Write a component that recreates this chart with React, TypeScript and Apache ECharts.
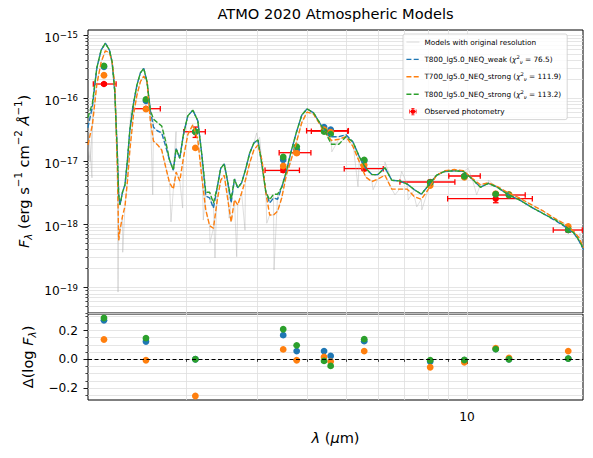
import React, { useEffect, useRef } from "react";
import * as echarts from "echarts";

// ---------------- data ----------------
const modelNames = ["T800_lg5.0_NEQ_weak", "T700_lg5.0_NEQ_strong", "T800_lg5.0_NEQ_strong"];
const chi2 = [76.5, 111.9, 113.2];
const grayName = "Models with original resolution";
const obsName = "Observed photometry";

// observed photometry (micron, erg s-1 cm-2 A-1)
const obsWave = [1.25, 1.59, 2.11, 3.49, 3.77, 4.41, 4.58, 5.55, 8.10, 9.85, 11.79, 12.72, 17.86];
const obsWaveLo = [1.176, 1.474, 1.973, 3.145, 3.41, 3.99, 4.10, 4.95, 6.81, 9.01, 8.95, 11.86, 16.39];
const obsWaveHi = [1.340, 1.726, 2.234, 3.83, 4.09, 5.07, 5.05, 6.19, 9.33, 10.79, 14.54, 13.96, 19.36];
const obsFlux = [1.675e-16, 6.81e-17, 2.94e-17, 7.21e-18, 1.37e-17, 3.05e-17, 3.0e-17, 7.64e-18, 4.71e-18, 5.86e-18, 2.56e-18, 2.93e-18, 8.18e-19];
const obsFluxErr = [8e-18, 3e-18, 5.5e-18, 5e-19, 9e-19, 2e-18, 2e-18, 5e-19, 3e-19, 3e-19, 3.5e-19, 1.5e-19, 6e-20];

// synthetic photometry of the models
const photWeak = [3.13e-16, 9.06e-17, 2.94e-17, 1.06e-17, 1.56e-17, 3.48e-17, 3.16e-17, 1.02e-17, 4.54e-18, 5.77e-18, 3.02e-18, 2.93e-18, 8.27e-19];
const photStrong700 = [2.30e-16, 6.70e-17, 1.63e-17, 8.45e-18, 1.35e-17, 3.16e-17, 2.89e-17, 8.71e-18, 4.15e-18, 5.58e-18, 3.06e-18, 2.99e-18, 9.32e-19];
const photStrong800 = [3.24e-16, 9.55e-17, 2.94e-17, 1.17e-17, 1.71e-17, 2.97e-17, 2.70e-17, 1.05e-17, 4.63e-18, 5.79e-18, 3.02e-18, 2.93e-18, 8.27e-19];

// residuals  log10(model / observed)
const resWeak = [0.271, 0.124, 0.0, 0.168, 0.057, 0.057, 0.023, 0.126, -0.016, -0.007, 0.071, 0.0, 0.005];
const resStrong700 = [0.138, -0.007, -0.255, 0.069, -0.007, 0.016, -0.016, 0.057, -0.055, -0.021, 0.078, 0.009, 0.057];
const resStrong800 = [0.287, 0.147, 0.0, 0.209, 0.097, -0.011, -0.046, 0.140, -0.007, -0.005, 0.071, 0.0, 0.005];

// smoothed model spectra: wavelength (micron) and log10 F_lambda
const specWave = [1.14, 1.17, 1.20, 1.23, 1.26, 1.29, 1.31, 1.33, 1.35, 1.36, 1.37, 1.39, 1.41, 1.43, 1.45, 1.48, 1.51, 1.54, 1.57, 1.60, 1.63, 1.66, 1.70, 1.74, 1.78, 1.82, 1.86, 1.89, 1.93, 1.97, 2.02, 2.08, 2.14, 2.19, 2.24, 2.29, 2.34, 2.39, 2.44, 2.49, 2.54, 2.59, 2.64, 2.69, 2.75, 2.81, 2.88, 2.95, 3.02, 3.09, 3.16, 3.23, 3.30, 3.38, 3.46, 3.55, 3.65, 3.76, 3.88, 4.00, 4.15, 4.30, 4.45, 4.60, 4.80, 5.00, 5.20, 5.40, 5.60, 5.80, 6.00, 6.25, 6.50, 6.80, 7.10, 7.40, 7.70, 8.00, 8.40, 8.80, 9.30, 9.80, 10.3, 10.8, 11.3, 11.9, 12.6, 13.5, 14.5, 15.5, 16.5, 17.5, 18.5, 19.0, 19.5];
const specWeak = [
  -16.47, -16.13, -15.52, -15.24, -15.13, -15.24, -15.43, -15.90, -16.90, -17.53,
  -17.69, -17.49, -17.37, -16.98, -16.50, -16.09, -15.79, -15.60, -15.53, -15.74,
  -16.19, -16.46, -16.52, -16.55, -16.76, -16.98, -17.14, -16.80, -16.95, -16.58,
  -16.28, -16.19, -16.36, -16.90, -17.55, -17.58, -17.74, -17.42, -17.11, -17.04,
  -17.33, -17.66, -17.28, -17.42, -17.34, -17.14, -16.87, -16.71, -16.66, -17.06,
  -17.49, -17.66, -17.58, -17.60, -17.41, -17.17, -16.85, -16.55, -16.27, -16.17,
  -16.23, -16.39, -16.55, -16.61, -16.61, -16.58, -16.69, -16.93, -17.11, -17.21,
  -17.21, -17.10, -17.30, -17.31, -17.36, -17.45, -17.52, -17.39, -17.22, -17.16,
  -17.15, -17.16, -17.28, -17.41, -17.35, -17.41, -17.52, -17.61, -17.73, -17.83,
  -17.93, -18.03, -18.15, -18.26, -18.40,
];
const specStrong700 = [
  -16.74, -16.42, -15.78, -15.43, -15.25, -15.28, -15.43, -15.79, -17.14, -18.25,
  -18.09, -17.87, -17.71, -17.31, -16.82, -16.27, -15.95, -15.74, -15.65, -15.74,
  -16.35, -16.68, -16.74, -16.82, -17.09, -17.34, -17.44, -17.17, -17.31, -16.95,
  -16.58, -16.42, -16.66, -17.26, -17.77, -18.02, -18.06, -17.63, -17.30, -17.22,
  -17.60, -17.96, -17.61, -17.69, -17.50, -17.30, -17.03, -16.82, -16.74, -16.98,
  -17.50, -17.85, -17.85, -17.79, -17.58, -17.23, -16.98, -16.71, -16.39, -16.22,
  -16.25, -16.41, -16.55, -16.67, -16.65, -16.61, -16.76, -17.01, -17.25, -17.32,
  -17.28, -17.22, -17.44, -17.44, -17.44, -17.56, -17.60, -17.45, -17.22, -17.15,
  -17.13, -17.15, -17.27, -17.37, -17.34, -17.40, -17.49, -17.58, -17.69, -17.79,
  -17.90, -17.99, -18.12, -18.21, -18.37,
];
const specStrong800 = [
  -16.31, -16.08, -15.52, -15.24, -15.13, -15.24, -15.43, -15.90, -16.90, -17.53,
  -17.69, -17.49, -17.37, -16.98, -16.50, -16.09, -15.79, -15.60, -15.53, -15.74,
  -16.19, -16.33, -16.39, -16.44, -16.68, -16.98, -17.14, -16.80, -16.95, -16.58,
  -16.28, -16.19, -16.36, -16.90, -17.49, -17.49, -17.66, -17.42, -17.11, -17.04,
  -17.33, -17.60, -17.28, -17.42, -17.34, -17.14, -16.87, -16.71, -16.66, -17.06,
  -17.49, -17.61, -17.52, -17.52, -17.41, -17.17, -16.85, -16.55, -16.27, -16.17,
  -16.23, -16.39, -16.55, -16.73, -16.73, -16.61, -16.69, -16.93, -17.11, -17.21,
  -17.21, -17.10, -17.30, -17.31, -17.36, -17.45, -17.52, -17.39, -17.22, -17.16,
  -17.15, -17.16, -17.28, -17.41, -17.35, -17.41, -17.52, -17.61, -17.73, -17.83,
  -17.92, -18.02, -18.14, -18.25, -18.39,
];

// extra features of the original-resolution spectra: [micron, log10 F]
const rawFeaturesWeak = [[1.455, -16.25], [2.56, -17.9], [3.05, -16.62]];
const rawFeatures700 = [[1.155, -17.0], [1.392, -18.44], [1.835, -17.96], [1.962, -17.74], [2.294, -18.29], [2.674, -18.51], [2.804, -18.09], [3.176, -17.98], [4.61, -16.85], [5.84, -17.45], [6.62, -17.53], [7.50, -17.72], [7.72, -17.77], [10.57, -17.53], [19.1, -18.14]];
const rawFeatures800 = [[1.167, -17.26], [1.355, -19.07], [1.653, -17.53], [1.889, -16.53], [2.208, -17.93], [2.361, -18.53], [2.998, -16.55], [3.311, -18.72], [5.356, -17.40], [6.25, -17.01], [6.88, -17.16], [7.14, -17.61], [10.07, -17.11], [11.30, -17.30]];

// axis ticks
const xMajorTicks = [10];
const xMinorTicks = [2, 3, 4, 5, 6, 7, 8, 9];
const yMajorExp = [-19, -18, -17, -16, -15];
const resMajorTicks = [-0.2, 0, 0.2];
const resMinorTicks = [-0.25, -0.15, -0.1, -0.05, 0.05, 0.1, 0.15, 0.25, 0.3];

// ---------------- styling ----------------
const FONT = "DejaVu Sans";
const BLUE = "#1f77b4";
const ORANGE = "#ff7f0e";
const GREEN = "#2ca02c";
const RED = "#ff0000";
const GRID_COLOR = "#dedede";

const L = Math.log10;
const XMIN = 0.0572;
const XMAX = 1.2886;
const YMIN = -19.401;
const YMAX = -14.921;
const RMIN = -0.283;
const RMAX = 0.315;

function spec(arr: number[]) {
  return specWave.map((w, i) => [L(w), arr[i]]);
}
function rawSpec(arr: number[], feats: number[][]) {
  return [...spec(arr), ...feats.map(([w, f]) => [L(w), f])].sort((a, b) => a[0] - b[0]);
}

function buildOption() {
  const xMinorLog = xMinorTicks.map(L);
  const xMajorLog = xMajorTicks.map(L);
  const yMinorLog: number[] = [];
  for (let d = -20; d <= -15; d++) {
    for (let k = 2; k <= 9; k++) {
      const v = d + L(k);
      if (v > YMIN && v < YMAX) yMinorLog.push(v);
    }
  }
  const gridLine = { color: GRID_COLOR, width: 0.8 };
  const tickMajor = { length: 4.5, lineStyle: { color: "#000", width: 0.9 } };
  const tickMinor = { length: 2.6, lineStyle: { color: "#000", width: 0.7 } };

  const dashStyle = (c: string) => ({ color: c, width: 1.4, type: [5, 2.2] as any });
  const grayStyle = { color: "#b4b4b4", width: 0.8, opacity: 0.55 };

  const dashIcon = "path://M0,0M13,8M0,3.3h5v1.4h-5zM7.3,3.3h5v1.4h-5z";
  const solidIcon = "path://M0,0M13,8M0,3.5h13v1h-13z";
  const errIcon =
    "path://M0,0M10,10M1,4.5H9V5.5H1ZM0.5,2.5H1.5V7.5H0.5ZM8.5,2.5H9.5V7.5H8.5ZM4.5,1H5.5V9H4.5ZM3,0.5H7V1.5H3ZM3,8.5H7V9.5H3ZM8,5A3,3,0,1,1,2,5A3,3,0,1,1,8,5Z";

  const seriesNames = modelNames.map((n, i) => `${n} (χ2ν = ${chi2[i].toFixed(1)})`);
  const legendFmt = (name: string) => {
    const idx = seriesNames.indexOf(name);
    if (idx < 0) return name;
    return `${modelNames[idx]} ({i|χ}{sup|2}{sub|ν} = ${chi2[idx].toFixed(1)})`;
  };

  const obsData = obsWave.map((w, i) => [
    L(w),
    L(obsFlux[i]),
    L(obsWaveLo[i]),
    L(obsWaveHi[i]),
    L(obsFlux[i] - obsFluxErr[i]),
    L(obsFlux[i] + obsFluxErr[i]),
  ]);

  const dots = (vals: number[], c: string, logVals: boolean, xi: number, yi: number) => ({
    type: "scatter",
    xAxisIndex: xi,
    yAxisIndex: yi,
    symbol: "circle",
    symbolSize: 6.8,
    itemStyle: { color: c, opacity: 1, borderWidth: 0 },
    silent: true,
    data: obsWave.map((w, i) => [L(w), logVals ? L(vals[i]) : vals[i]]),
  });

  const labelRich = {
    b: { fontSize: 12.2, lineHeight: 18, verticalAlign: "bottom", fontFamily: FONT, color: "#000" },
    s: { fontSize: 8.6, lineHeight: 18, verticalAlign: "middle", fontFamily: FONT, color: "#000" },
  };
  const nameRich = {
    n: { fontSize: 14.6, lineHeight: 20, fontFamily: FONT, color: "#000" },
    i: { fontSize: 14.6, lineHeight: 20, fontFamily: FONT, fontStyle: "italic", color: "#000" },
    sup: { fontSize: 10.2, lineHeight: 20, verticalAlign: "top", fontFamily: FONT, color: "#000" },
    sub: { fontSize: 10.2, lineHeight: 20, verticalAlign: "bottom", fontFamily: FONT, fontStyle: "italic", color: "#000" },
  };

  return {
    animation: false,
    backgroundColor: "#ffffff",
    textStyle: { fontFamily: FONT },
    title: {
      text: "ATMO 2020 Atmospheric Models",
      left: 335.5,
      top: 6,
      padding: 0,
      textAlign: "center",
      textStyle: { fontFamily: FONT, fontSize: 14.6, fontWeight: "normal", color: "#000" },
    },
    legend: {
      orient: "vertical",
      left: 403,
      top: 34,
      padding: [3, 6, 3, 3.4],
      itemGap: 7.4,
      itemWidth: 13,
      itemHeight: 8,
      selectedMode: false,
      backgroundColor: "rgba(255,255,255,0.85)",
      borderColor: "#cccccc",
      borderWidth: 0.8,
      borderRadius: 2,
      textStyle: {
        fontFamily: FONT,
        fontSize: 7.3,
        lineHeight: 10,
        color: "#000",
        rich: {
          i: { fontFamily: FONT, fontSize: 7.3, lineHeight: 10, fontStyle: "italic", color: "#000" },
          sup: { fontFamily: FONT, fontSize: 5.2, lineHeight: 10, verticalAlign: "top", color: "#000" },
          sub: { fontFamily: FONT, fontSize: 5.2, lineHeight: 10, verticalAlign: "bottom", fontStyle: "italic", color: "#000" },
        },
      },
      formatter: legendFmt,
      data: [
        { name: grayName, icon: solidIcon, itemStyle: { color: "#d6d6d6" } },
        { name: seriesNames[0], icon: dashIcon, itemStyle: { color: BLUE } },
        { name: seriesNames[1], icon: dashIcon, itemStyle: { color: ORANGE } },
        { name: seriesNames[2], icon: dashIcon, itemStyle: { color: GREEN } },
        { name: obsName, icon: errIcon, itemStyle: { color: RED } },
      ],
    },
    grid: [
      { left: 88, top: 30, width: 495, height: 283, show: true, borderColor: "#000", borderWidth: 1, backgroundColor: "transparent" },
      { left: 88, top: 314, width: 495, height: 86, show: true, borderColor: "#000", borderWidth: 1, backgroundColor: "transparent" },
    ],
    xAxis: [
      {
        type: "value", gridIndex: 0, min: XMIN, max: XMAX, position: "bottom",
        axisLine: { show: false },
        axisTick: { show: false, customValues: [...xMajorLog, ...xMinorLog] },
        axisLabel: { show: false, customValues: xMajorLog },
        splitLine: { show: true, lineStyle: gridLine },
      },
      {
        type: "value", gridIndex: 1, min: XMIN, max: XMAX, position: "bottom",
        axisLine: { show: false },
        axisTick: { show: true, ...tickMajor, customValues: xMajorLog },
        axisLabel: {
          show: true, customValues: xMajorLog, margin: 11, fontSize: 12.2, color: "#000", fontFamily: FONT,
          formatter: (v: number) => String(Math.round(Math.pow(10, v))),
        },
        splitLine: { show: true, lineStyle: gridLine },
        name: "{i|λ}{n| (}{i|μ}{n|m)}",
        nameLocation: "middle",
        nameGap: 27,
        nameTextStyle: { rich: nameRich, fontSize: 14.6, color: "#000" },
      },
      {
        type: "value", gridIndex: 1, min: XMIN, max: XMAX, position: "bottom",
        axisLine: { show: false },
        axisTick: { show: true, ...tickMinor, customValues: xMinorLog },
        axisLabel: { show: false },
        splitLine: { show: true, lineStyle: gridLine },
      },
    ],
    yAxis: [
      {
        type: "value", gridIndex: 0, min: YMIN, max: YMAX, position: "left",
        axisLine: { show: false },
        axisTick: { show: true, ...tickMajor, customValues: yMajorExp },
        axisLabel: {
          show: true, customValues: yMajorExp, margin: 10, color: "#000", fontFamily: FONT, fontSize: 12.2,
          formatter: (v: number) => `{b|10}{s|−${Math.round(-v)}}`,
          rich: labelRich,
        },
        splitLine: { show: true, lineStyle: gridLine },
        name: "{i|F}{sub|λ}{n| (erg s}{sup|−1}{n| cm}{sup|−2}{n| }{i|Å}{sup|−1}{n|)}",
        nameLocation: "middle",
        nameRotate: 90,
        nameGap: 52,
        nameTextStyle: { rich: nameRich, fontSize: 14.6, color: "#000" },
      },
      {
        type: "value", gridIndex: 0, min: YMIN, max: YMAX, position: "left",
        axisLine: { show: false },
        axisTick: { show: true, ...tickMinor, customValues: yMinorLog },
        axisLabel: { show: false },
        splitLine: { show: true, lineStyle: gridLine },
      },
      {
        type: "value", gridIndex: 1, min: RMIN, max: RMAX, position: "left",
        axisLine: { show: false },
        axisTick: { show: true, ...tickMajor, customValues: resMajorTicks },
        axisLabel: {
          show: true, customValues: resMajorTicks, margin: 10, color: "#000", fontFamily: FONT, fontSize: 12.2,
          formatter: (v: number) => (Math.abs(v) < 1e-9 ? "0.0" : (v < 0 ? "−" : "") + Math.abs(v).toFixed(1)),
        },
        splitLine: { show: true, lineStyle: gridLine },
        name: "{n|Δ(log }{i|F}{sub|λ}{n|)}",
        nameLocation: "middle",
        nameRotate: 90,
        nameGap: 50,
        nameTextStyle: { rich: nameRich, fontSize: 14.6, color: "#000" },
      },
      {
        type: "value", gridIndex: 1, min: RMIN, max: RMAX, position: "left",
        axisLine: { show: false },
        axisTick: { show: true, ...tickMinor, customValues: resMinorTicks },
        axisLabel: { show: false },
        splitLine: { show: true, lineStyle: gridLine },
      },
    ],
    series: [
      // original-resolution spectra
      { type: "line", name: grayName, xAxisIndex: 0, yAxisIndex: 0, symbol: "none", silent: true, lineStyle: grayStyle, data: rawSpec(specWeak, rawFeaturesWeak) },
      { type: "line", name: grayName, xAxisIndex: 0, yAxisIndex: 0, symbol: "none", silent: true, lineStyle: grayStyle, data: rawSpec(specStrong700, rawFeatures700) },
      { type: "line", name: grayName, xAxisIndex: 0, yAxisIndex: 0, symbol: "none", silent: true, lineStyle: grayStyle, data: rawSpec(specStrong800, rawFeatures800) },
      // smoothed model spectra
      { type: "line", name: seriesNames[0], xAxisIndex: 0, yAxisIndex: 0, symbol: "none", silent: true, itemStyle: { color: BLUE }, lineStyle: dashStyle(BLUE), data: spec(specWeak) },
      { type: "line", name: seriesNames[1], xAxisIndex: 0, yAxisIndex: 0, symbol: "none", silent: true, itemStyle: { color: ORANGE }, lineStyle: dashStyle(ORANGE), data: spec(specStrong700) },
      { type: "line", name: seriesNames[2], xAxisIndex: 0, yAxisIndex: 0, symbol: "none", silent: true, itemStyle: { color: GREEN }, lineStyle: dashStyle(GREEN), data: spec(specStrong800) },
      // observed photometry with error bars
      {
        type: "custom",
        name: obsName,
        xAxisIndex: 0,
        yAxisIndex: 0,
        silent: true,
        itemStyle: { color: RED },
        dimensions: ["x", "y", "xl", "xh", "yl", "yh"],
        encode: { x: 0, y: 1 },
        data: obsData,
        renderItem: (params: any, api: any) => {
          const x = api.value(0);
          const y = api.value(1);
          const c = api.coord([x, y]);
          const l = api.coord([api.value(2), y]);
          const r = api.coord([api.value(3), y]);
          const b = api.coord([x, api.value(4)]);
          const t = api.coord([x, api.value(5)]);
          const cap = 2.8;
          const st = { stroke: RED, lineWidth: 1.3 };
          const ln = (x1: number, y1: number, x2: number, y2: number) => ({ type: "line", shape: { x1, y1, x2, y2 }, style: st });
          return {
            type: "group",
            children: [
              ln(l[0], c[1], r[0], c[1]),
              ln(l[0], c[1] - cap, l[0], c[1] + cap),
              ln(r[0], c[1] - cap, r[0], c[1] + cap),
              ln(c[0], b[1], c[0], t[1]),
              ln(c[0] - cap, b[1], c[0] + cap, b[1]),
              ln(c[0] - cap, t[1], c[0] + cap, t[1]),
              { type: "circle", shape: { cx: c[0], cy: c[1], r: 3.2 }, style: { fill: RED } },
            ],
          };
        },
      },
      // model photometry
      dots(photWeak, BLUE, true, 0, 0),
      dots(photStrong700, ORANGE, true, 0, 0),
      dots(photStrong800, GREEN, true, 0, 0),
      // residuals
      {
        ...dots(resWeak, BLUE, false, 1, 2),
        markLine: {
          silent: true,
          symbol: ["none", "none"],
          label: { show: false },
          lineStyle: { color: "#000", width: 1, type: [4, 2.5] as any },
          data: [{ yAxis: 0 }],
        },
      },
      dots(resStrong700, ORANGE, false, 1, 2),
      dots(resStrong800, GREEN, false, 1, 2),
    ],
  };
}

export default function App() {
  const ref = useRef<HTMLDivElement>(null);
  useEffect(() => {
    if (!ref.current) return;
    const chart = echarts.init(ref.current, undefined, { renderer: "svg" });
    chart.setOption(buildOption() as any);
    return () => chart.dispose();
  }, []);
  return <div ref={ref} style={{ position: "fixed", left: 0, top: 0, width: 593, height: 458 }} />;
}
